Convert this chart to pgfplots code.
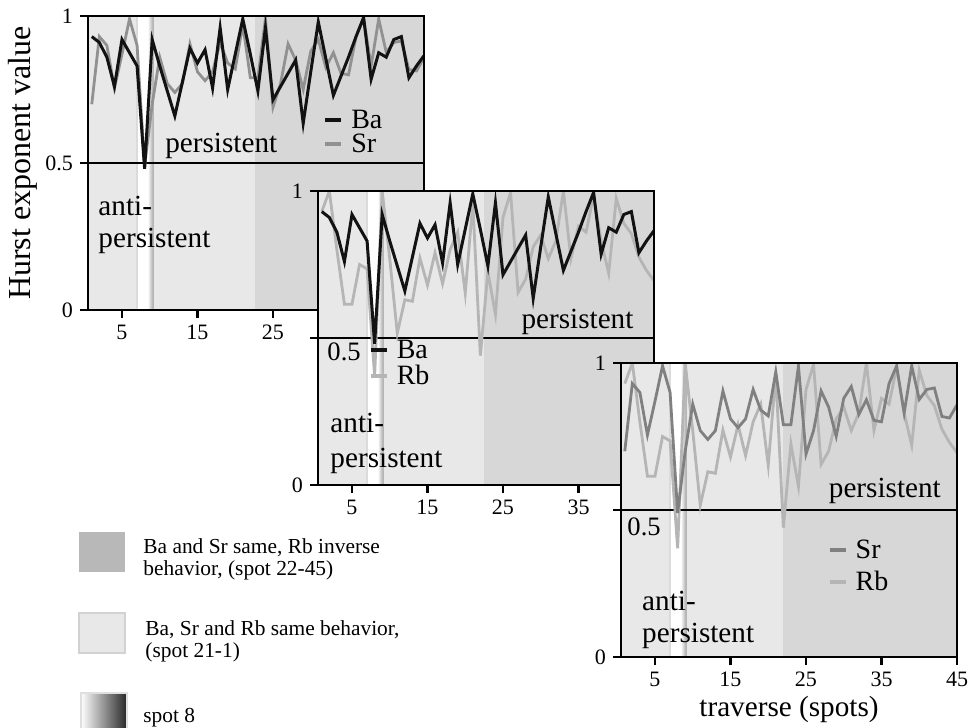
\documentclass[border=0pt]{standalone}
\usepackage{fontspec}
\setmainfont{Liberation Serif}
\usepackage{pgfplots}
\pgfplotsset{compat=1.18}
\usepackage{pgfplotstable}

\definecolor{lightbg}{gray}{0.91}
\definecolor{darkbg}{gray}{0.845}
\definecolor{swdark}{gray}{0.72}
\definecolor{srone}{gray}{0.57}
\definecolor{srthree}{gray}{0.50}
\definecolor{rbcol}{gray}{0.71}
\definecolor{bacol}{gray}{0.07}

\newcommand{\fs}[1]{\fontsize{#1}{#1}\selectfont}

\pgfplotstableread{
x y
1 0.93
2 0.91
3 0.86
4 0.76
5 0.92
6 0.875
7 0.83
8 0.48
9 0.92
10 0.83
11 0.745
12 0.66
13 0.775
14 0.89
15 0.84
16 0.885
17 0.755
18 0.96
19 0.75
20 0.87
21 0.99
22 0.87
23 0.745
24 0.96
25 0.715
26 0.76
27 0.805
28 0.85
29 0.635
30 0.81
31 0.98
32 0.855
33 0.73
34 0.795
35 0.86
36 0.93
37 0.995
38 0.785
39 0.875
40 0.86
41 0.92
42 0.93
43 0.79
44 0.83
45 0.865
}\Ba

\pgfplotstableread{
x y
1 0.70
2 0.93
3 0.90
4 0.755
5 0.87
6 0.99
7 0.90
8 0.49
9 0.70
10 0.86
11 0.77
12 0.74
13 0.77
14 0.905
15 0.81
16 0.78
17 0.81
18 0.91
19 0.84
20 0.82
21 0.97
22 0.79
23 0.79
24 0.99
25 0.69
26 0.77
27 0.905
28 0.85
29 0.75
30 0.88
31 0.92
32 0.825
33 0.875
34 0.805
35 0.80
36 0.93
37 0.99
38 0.83
39 0.99
40 0.876
41 0.91
42 0.915
43 0.818
44 0.813
45 0.858
}\Sr

\pgfplotstableread{
x y
1 0.93
2 1.0
3 0.80
4 0.615
5 0.615
6 0.75
7 0.735
8 0.37
9 1.0
10 0.77
11 0.516
12 0.63
13 0.625
14 0.772
15 0.68
16 0.79
17 0.685
18 0.80
19 0.86
20 0.652
21 0.96
22 0.44
23 0.725
24 0.58
25 0.91
26 0.995
27 0.655
28 0.70
29 0.81
30 0.85
31 0.77
32 0.83
33 1.0
34 0.77
35 0.88
36 0.86
37 0.985
38 0.83
39 0.72
40 0.975
41 0.89
42 0.855
43 0.775
44 0.73
45 0.695
}\Rb

\pgfplotsset{
  panel/.style={
    scale only axis, width=168pt, height=147pt,
    xmin=0.5, xmax=45, ymin=0, ymax=1,
    xtick={5,15,25,35,45}, ytick={0,0.5,1},
    tick pos=left, tick align=outside,
    major tick length=4pt,
    major tick style={black, line width=1.2pt},
    axis line style={black, line width=1.4pt},
    axis background/.style={fill=lightbg},
    axis on top,
    tick label style={font=\fs{11}},
    /pgf/number format/assume math mode=true,
    legend cell align=left,
    legend style={draw=none, fill=none, inner sep=0pt, font=\fs{14},
      nodes={inner sep=1pt, text height=8.5pt, text depth=0pt},
      /tikz/column sep=3pt},
    legend image code/.code={\draw[##1, line width=2pt] (0pt,0pt) -- (8pt,0pt);},
    reverse legend,
  }
}

\newcommand{\panelbg}[1]{%
  \fill[darkbg] (axis cs:#1,0) rectangle (axis cs:45,1);
  \fill[gray!28] (axis cs:6.85,0) rectangle (axis cs:7.1,1);
  \fill[white] (axis cs:7.1,0) rectangle (axis cs:8.4,1);
  \fill[left color=white, right color=gray!60] (axis cs:8.4,0) rectangle (axis cs:9.05,1);
  \fill[gray!58] (axis cs:9.05,0) rectangle (axis cs:9.25,1);
  \draw[black, line width=1.4pt] (rel axis cs:0,0.5) -- (rel axis cs:1,0.5);
}

\begin{document}
\begin{tikzpicture}
\useasboundingbox (0,0) rectangle (485pt,-364pt);

% ---------- panel 1 : Ba, Sr ----------
\begin{axis}[panel, at={(44pt,-155pt)}, anchor=south west,
  xticklabels={5,15,25,{},{}},
  ylabel={Hurst exponent value},
  ylabel style={at={(axis description cs:-0.195,0.5)}, anchor=center, font=\fs{16}},
  legend style={at={(rel axis cs:0.699,0.685)}, anchor=north west, row sep=1.5pt}]
\panelbg{22.6}
\addplot[srone, line width=1.4pt] table {\Sr};
\addlegendentry{Sr}
\addplot[bacol, line width=1.5pt] table {\Ba};
\addlegendentry{Ba}
\node[anchor=base west, font=\fs{14.6}, inner sep=0pt] at (rel axis cs:0.229,0.537) {persistent};
\node[anchor=base west, font=\fs{14.6}, inner sep=0pt] at (rel axis cs:0.030,0.323) {anti-};
\node[anchor=base west, font=\fs{14.6}, inner sep=0pt] at (rel axis cs:0.030,0.214) {persistent};
\end{axis}

% ---------- panel 2 : Ba, Rb ----------
\begin{axis}[panel, at={(159pt,-242.5pt)}, anchor=south west,
  xticklabels={5,15,25,35,{}},
  yticklabels={0,{},1},
  legend style={at={(rel axis cs:0.15,0.495)}, anchor=north west, row sep=2.5pt}]
\panelbg{22.5}
\addplot[rbcol, line width=1.4pt] table {\Rb};
\addlegendentry{Rb}
\addplot[bacol, line width=1.5pt] table {\Ba};
\addlegendentry{Ba}
\node[anchor=base east, font=\fs{14.6}, inner sep=0pt] at (rel axis cs:0.940,0.532) {persistent};
\node[anchor=base west, font=\fs{13.3}, inner sep=0pt] at (rel axis cs:0.027,0.424) {0.5};
\node[anchor=base west, font=\fs{14.6}, inner sep=0pt] at (rel axis cs:0.036,0.180) {anti-};
\node[anchor=base west, font=\fs{14.6}, inner sep=0pt] at (rel axis cs:0.036,0.061) {persistent};
\end{axis}

% ---------- panel 3 : Sr, Rb ----------
\begin{axis}[panel, at={(310.5pt,-328.5pt)}, anchor=south west,
  yticklabels={0,{},1},
  xlabel={traverse (spots)},
  xlabel style={at={(axis description cs:0.5,-0.178)}, anchor=center, font=\fs{14.6}},
  legend style={at={(rel axis cs:0.614,0.40)}, anchor=north west, row sep=5.5pt}]
\panelbg{22.0}
\addplot[rbcol, line width=1.4pt] table {\Rb};
\addlegendentry{Rb}
\addplot[srthree, line width=1.4pt] table {\Sr};
\addlegendentry{Sr}
\node[anchor=base east, font=\fs{14.6}, inner sep=0pt] at (rel axis cs:0.953,0.542) {persistent};
\node[anchor=base west, font=\fs{13.3}, inner sep=0pt] at (rel axis cs:0.018,0.414) {0.5};
\node[anchor=base west, font=\fs{14.6}, inner sep=0pt] at (rel axis cs:0.062,0.159) {anti-};
\node[anchor=base west, font=\fs{14.6}, inner sep=0pt] at (rel axis cs:0.062,0.051) {persistent};
\end{axis}

% ---------- key at bottom left ----------
\fill[swdark] (39.5pt,-266pt) rectangle (62.5pt,-286pt);
\filldraw[fill=lightbg, draw=gray!35, line width=1pt] (39.5pt,-306.5pt) rectangle (62.5pt,-326.5pt);
\shade[left color=white, middle color=gray!12, right color=black!85] (40.5pt,-346.5pt) rectangle (63.5pt,-368pt);
\draw[gray!25, line width=1pt] (40.5pt,-346.5pt) rectangle (63.5pt,-368pt);
\node[anchor=base west, inner sep=0pt, font=\fs{10.7}] at (71.5pt,-276.5pt) {Ba and Sr same, Rb inverse};
\node[anchor=base west, inner sep=0pt, font=\fs{10.7}] at (71.5pt,-287.5pt) {behavior, (spot 22-45)};
\node[anchor=base west, inner sep=0pt, font=\fs{10.7}] at (72.5pt,-317.5pt) {Ba, Sr and Rb same behavior,};
\node[anchor=base west, inner sep=0pt, font=\fs{10.7}] at (72.5pt,-328.5pt) {(spot 21-1)};
\node[anchor=base west, inner sep=0pt, font=\fs{10.7}] at (71.5pt,-361pt) {spot 8};
\end{tikzpicture}
\end{document}
